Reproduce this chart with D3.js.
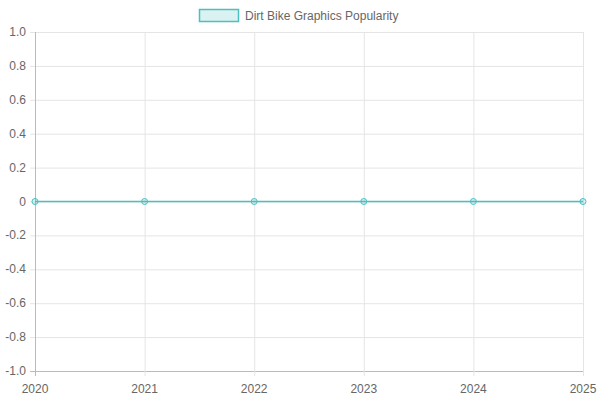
<!DOCTYPE html>
<html><head><meta charset="utf-8">
<script src="https://cdn.jsdelivr.net/npm/d3@7"></script>
<style>body{margin:0;background:#fff}text{font-family:"Liberation Sans",Arial,sans-serif;font-size:12px;fill:#666}</style>
</head><body>
<script>
var years = ['2020', '2021', '2022', '2023', '2024', '2025'];
var popularity = [0, 0, 0, 0, 0, 0];
var y_ticks = [-1, -0.8, -0.6, -0.4, -0.2, 0, 0.2, 0.4, 0.6, 0.8, 1];
var series_name = 'Dirt Bike Graphics Popularity';

var MARGIN = {left: 35, right: 17, top: 32, bottom: 29};
var W = 600, H = 400;
var COLOR = 'rgb(75,192,192)';

var svg = d3.select('body').append('svg').attr('width', W).attr('height', H);

var scale_x = d3.scalePoint().domain(years).range([MARGIN.left, W - MARGIN.right]);
var scale_y = d3.scaleLinear().domain([-1, 1]).range([H - MARGIN.bottom, MARGIN.top]);

// grid
svg.append('g').selectAll('line').data(y_ticks).enter().append('line')
    .attr('x1', MARGIN.left - 5).attr('x2', W - MARGIN.right)
    .attr('y1', function(d) {return scale_y(d) + 0.5;})
    .attr('y2', function(d) {return scale_y(d) + 0.5;})
    .attr('stroke', function(d, i) {return i === 0 ? '#bbb' : '#e5e5e5';});
svg.append('g').selectAll('line').data(years).enter().append('line')
    .attr('x1', function(d) {return scale_x(d) + 0.5;})
    .attr('x2', function(d) {return scale_x(d) + 0.5;})
    .attr('y1', MARGIN.top).attr('y2', H - MARGIN.bottom + 5)
    .attr('stroke', function(d, i) {return i === 0 ? '#bbb' : '#e5e5e5';});

// axes labels
svg.append('g').selectAll('text').data(y_ticks).enter().append('text')
    .attr('x', MARGIN.left - 9).attr('y', function(d) {return scale_y(d) + 4;})
    .attr('text-anchor', 'end')
    .text(function(d) {return d === 0 ? '0' : d.toFixed(1);});
svg.append('g').selectAll('text').data(years).enter().append('text')
    .attr('x', function(d) {return scale_x(d);}).attr('y', H - MARGIN.bottom + 22)
    .attr('text-anchor', 'middle').text(function(d) {return d;});

// line
var line = d3.line().x(function(d, i) {return scale_x(years[i]);}).y(function(d) {return scale_y(d);});
svg.append('path').datum(popularity).attr('d', line)
    .attr('fill', 'none').attr('stroke', COLOR).attr('stroke-width', 1.5);
svg.append('g').selectAll('circle').data(popularity).enter().append('circle')
    .attr('cx', function(d, i) {return scale_x(years[i]);})
    .attr('cy', function(d) {return scale_y(d);})
    .attr('r', 3).attr('fill', 'rgba(75,192,192,0.2)').attr('stroke', COLOR);

// legend
var legend = svg.append('g');
legend.append('rect').attr('x', 199.5).attr('y', 9.5).attr('width', 39).attr('height', 12)
    .attr('fill', 'rgba(75,192,192,0.2)').attr('stroke', COLOR).attr('stroke-width', 1.5);
legend.append('text').attr('x', 245).attr('y', 20).text(series_name);
</script>
</body></html>
